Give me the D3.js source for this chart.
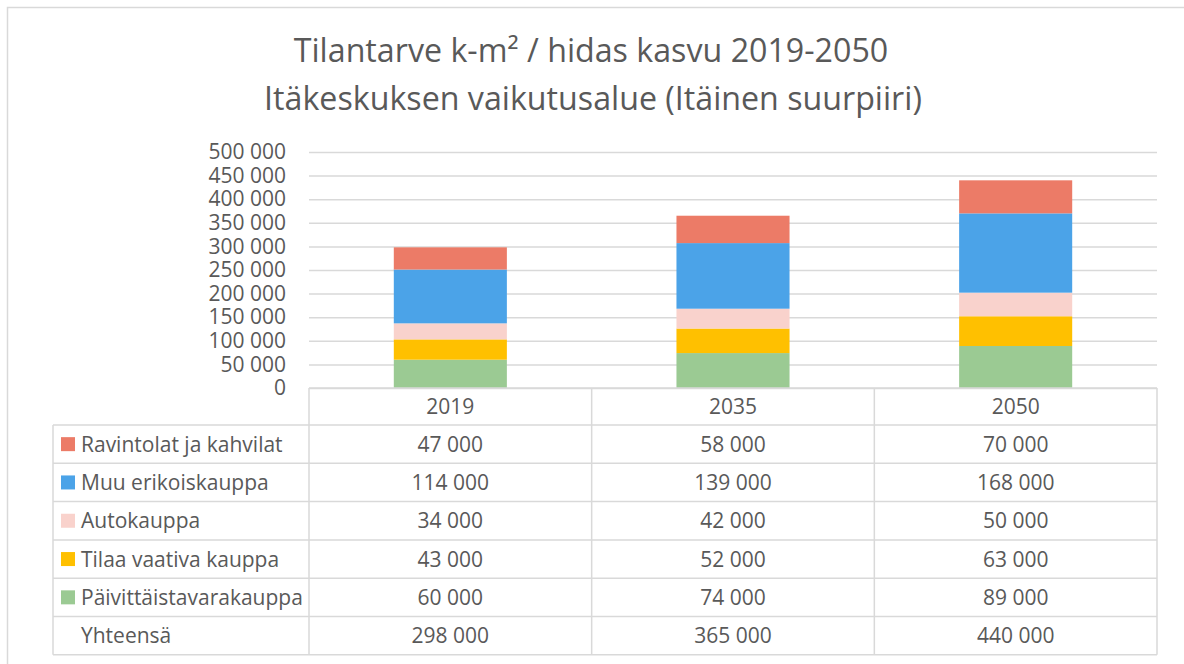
<!DOCTYPE html>
<html>
<head>
<meta charset="utf-8">
<script src="https://cdn.jsdelivr.net/npm/d3@7"></script>
<style>
  html, body { margin: 0; padding: 0; background: #fff; }
  svg { display: block; font-family: "Open Sans", Lato, sans-serif; }
</style>
</head>
<body>
<svg id="chart" width="1184" height="664"></svg>
<script>
// Categories (years) and the five stacked series, k-m²
const years = ["2019", "2035", "2050"];
const seriesNames = ["Päivittäistavarakauppa", "Tilaa vaativa kauppa", "Autokauppa", "Muu erikoiskauppa", "Ravintolat ja kahvilat"];
const paivittaistavara = [60000, 74000, 89000];
const tilaaVaativa = [43000, 52000, 63000];
const autokauppa = [34000, 42000, 50000];
const muuErikois = [114000, 139000, 168000];
const ravintolat = [47000, 58000, 70000];
const totals = [298000, 365000, 440000];
const yTicks = [0, 50000, 100000, 150000, 200000, 250000, 300000, 350000, 400000, 450000, 500000];
const seriesColors = ["#9BCA93", "#FFC000", "#F9D2CC", "#4BA3E8", "#EC7B67"];

const seriesValues = [paivittaistavara, tilaaVaativa, autokauppa, muuErikois, ravintolat];
const rows = years.map((y, i) => {
  const r = { year: y };
  seriesNames.forEach((n, k) => r[n] = seriesValues[k][i]);
  return r;
});

const svg = d3.select("#chart");
const textColor = "#595959";
const gridColor = "#D9D9D9";
const fontSize = 21;
const fmt = v => d3.format(",")(v).replace(/,/g, " ");

// chart frame
svg.append("path")
  .attr("d", "M7.5,700 V7.5 H1200")
  .attr("fill", "none").attr("stroke", gridColor).attr("stroke-width", 1.5);

// title
const title = svg.append("text").attr("text-anchor", "middle").attr("fill", textColor)
  .attr("font-size", 32.2);
title.append("tspan").attr("x", 591).attr("y", 62).text("Tilantarve k-m² / hidas kasvu 2019-2050");
title.append("tspan").attr("x", 593).attr("y", 110).text("Itäkeskuksen vaikutusalue (Itäinen suurpiiri)");

const plotLeft = 309, plotRight = 1157, plotTop = 152, plotBottom = 388;

const x = d3.scaleBand().domain(years).range([plotLeft, plotRight]).paddingInner(0).paddingOuter(0);
const y = d3.scaleLinear().domain([0, 500000]).range([plotBottom, plotTop]);

// gridlines and tick labels
const yAxis = d3.axisLeft(y).tickValues(yTicks).tickSize(-(plotRight - plotLeft)).tickFormat(fmt).tickPadding(23);
const yg = svg.append("g").attr("transform", `translate(${plotLeft},0)`).call(yAxis);
yg.select(".domain").remove();
yg.selectAll(".tick line").attr("stroke", gridColor).attr("stroke-width", 1.5);
yg.selectAll(".tick text").attr("fill", textColor).attr("font-size", fontSize)
  .attr("font-family", "'Open Sans', Lato, sans-serif");

// stacked bars
const stack = d3.stack().keys(seriesNames);
const stacked = stack(rows);
const barW = x.bandwidth() * 0.4;
svg.append("g").selectAll("g").data(stacked).join("g")
  .attr("fill", (d, i) => seriesColors[i])
  .selectAll("rect").data(d => d).join("rect")
  .attr("x", d => x(d.data.year) + (x.bandwidth() - barW) / 2)
  .attr("width", barW)
  .attr("y", d => y(d[1]))
  .attr("height", d => y(d[0]) - y(d[1]));

// data table under the plot
const rowH = 38.3;
const tableLeft = 53;
const headerTop = plotBottom;
const bodyTop = headerTop + 37;
const tableRows = seriesNames.slice().reverse().map((n, k) => ({
  name: n, color: seriesColors[seriesNames.length - 1 - k], values: seriesValues[seriesNames.length - 1 - k]
}));
tableRows.push({ name: "Yhteensä", color: null, values: totals });

const tg = svg.append("g");
const line = (x1, y1, x2, y2) => tg.append("line")
  .attr("x1", x1).attr("y1", y1).attr("x2", x2).attr("y2", y2)
  .attr("stroke", gridColor).attr("stroke-width", 1.5);

const tableBottom = bodyTop + rowH * tableRows.length;
line(plotLeft, headerTop, plotRight, headerTop);
for (let i = 0; i <= tableRows.length; i++) {
  line(tableLeft, bodyTop + rowH * i, plotRight, bodyTop + rowH * i);
}
line(tableLeft, bodyTop, tableLeft, tableBottom);
years.forEach(yr => line(x(yr), headerTop, x(yr), tableBottom));
line(plotRight, headerTop, plotRight, tableBottom);

// header labels
tg.selectAll("text.hdr").data(years).join("text").attr("class", "hdr")
  .attr("x", d => x(d) + x.bandwidth() / 2).attr("y", headerTop + 26)
  .attr("text-anchor", "middle").attr("fill", textColor).attr("font-size", fontSize)
  .text(d => d);

tableRows.forEach((r, i) => {
  const cy = bodyTop + rowH * i + rowH / 2;
  if (r.color) {
    tg.append("rect").attr("x", 61).attr("y", cy - 7).attr("width", 14).attr("height", 14).attr("fill", r.color);
  }
  tg.append("text").attr("x", 81).attr("y", cy + 7.5).attr("fill", textColor).attr("font-size", fontSize).text(r.name);
  years.forEach((yr, j) => {
    tg.append("text").attr("x", x(yr) + x.bandwidth() / 2).attr("y", cy + 7.5)
      .attr("text-anchor", "middle").attr("fill", textColor).attr("font-size", fontSize)
      .text(fmt(r.values[j]));
  });
});
</script>
</body>
</html>
